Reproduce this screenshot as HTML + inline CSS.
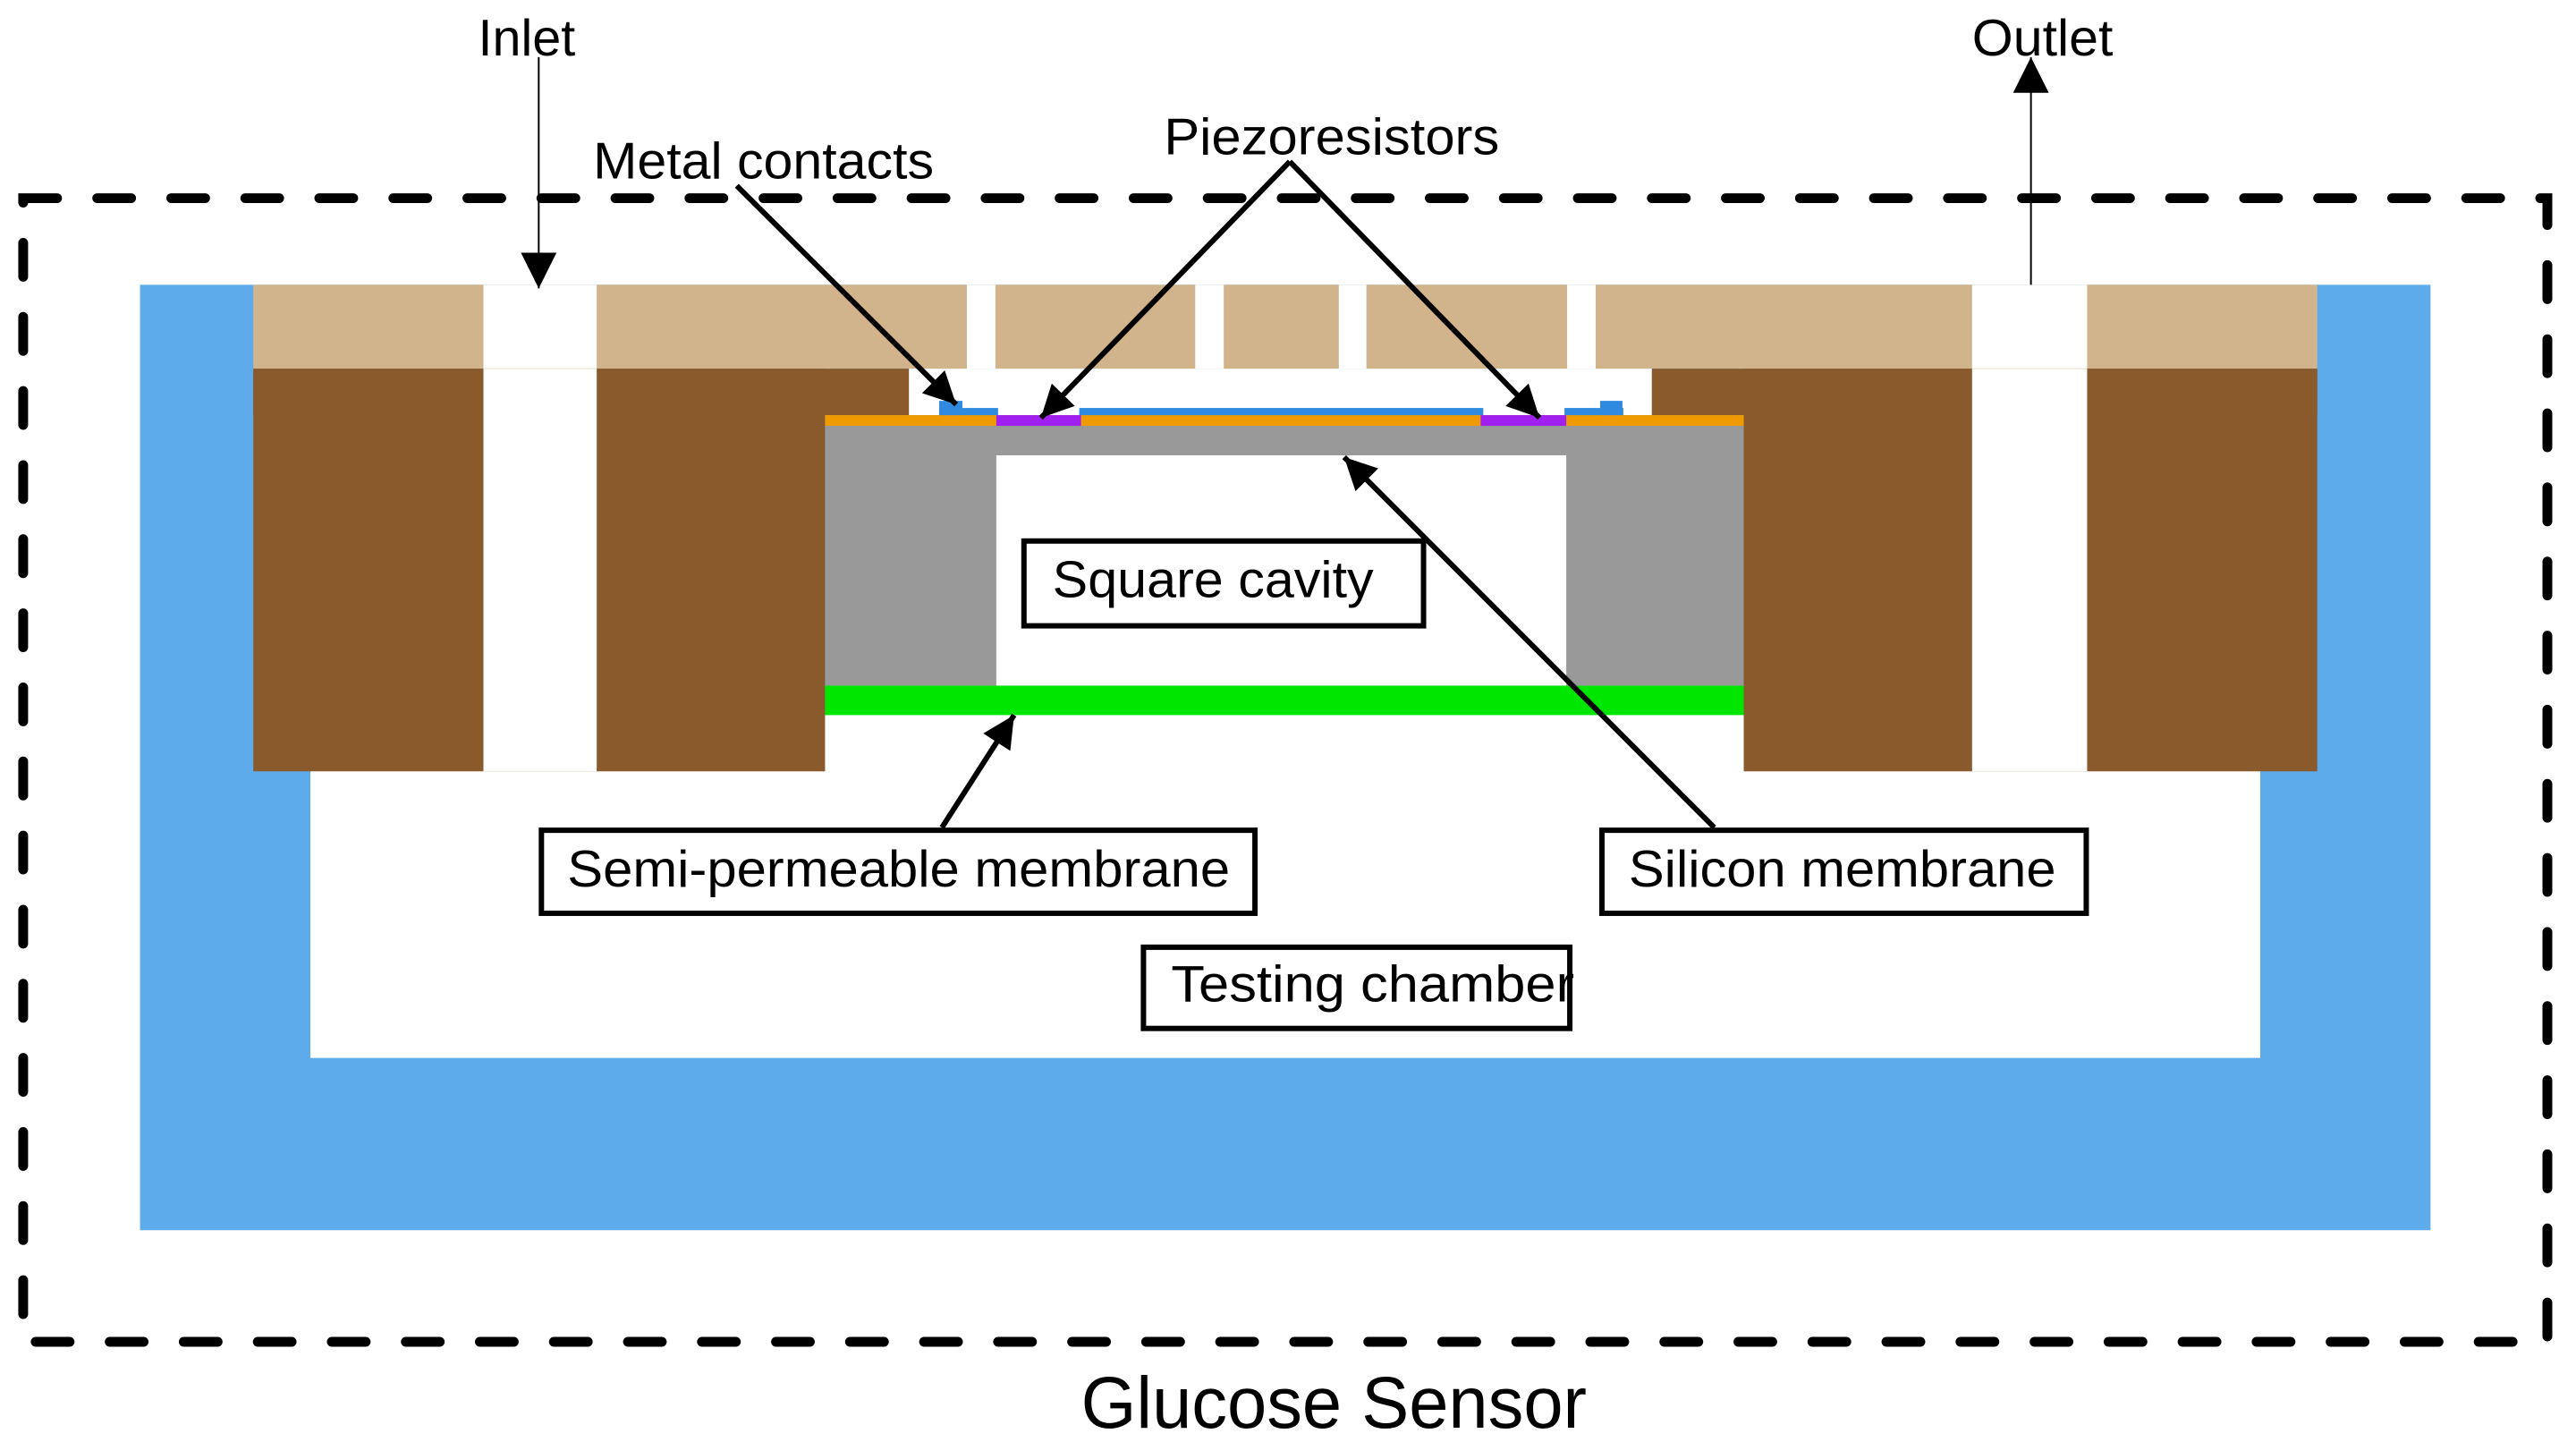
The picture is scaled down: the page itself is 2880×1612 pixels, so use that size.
<!DOCTYPE html>
<html><head><meta charset="utf-8"><style>html,body{margin:0;padding:0;background:#fff}svg{display:block}text{font-family:"Liberation Sans",Arial,sans-serif;fill:#000}</style></head>
<body>
<svg width="2880" height="1612" viewBox="0 0 2880 1612" xmlns="http://www.w3.org/2000/svg">
<defs>
<marker id="ah" viewBox="0 0 10 10" refX="10" refY="5" markerWidth="45" markerHeight="36" markerUnits="userSpaceOnUse" orient="auto"><path d="M0,0 L10,5 L0,10 z" fill="#000"/></marker>
<marker id="ahs" viewBox="0 0 10 10" refX="10" refY="5" markerWidth="40" markerHeight="40" markerUnits="userSpaceOnUse" orient="auto"><path d="M0,0 L10,5 L0,10 z" fill="#000"/></marker>
</defs>
<g transform="scale(0.9972,0.998)">
<rect x="157" y="319" width="2568" height="1059" fill="#5dabeb"/>
<rect x="348" y="800" width="2186" height="385" fill="#fff"/>
<rect x="284" y="319" width="2314" height="94" fill="#d1b38c"/>
<rect x="1019" y="413" width="833" height="52" fill="#fff"/>
<rect x="284" y="413" width="735" height="52" fill="#8a5a2d"/>
<rect x="284" y="413" width="641" height="451" fill="#8a5a2d"/>
<rect x="1852" y="413" width="746" height="52" fill="#8a5a2d"/>
<rect x="1955" y="413" width="643" height="451" fill="#8a5a2d"/>
<rect x="542" y="319" width="127" height="545" fill="#fff"/>
<rect x="2211" y="319" width="129" height="545" fill="#fff"/>
<line x1="542" y1="413" x2="669" y2="413" stroke="#e8dccb" stroke-width="1"/>
<line x1="2211" y1="413" x2="2340" y2="413" stroke="#e8dccb" stroke-width="1"/>
<rect x="1084" y="319" width="32" height="94" fill="#fff"/>
<rect x="1340" y="319" width="32" height="94" fill="#fff"/>
<rect x="1501" y="319" width="31" height="94" fill="#fff"/>
<rect x="1757" y="319" width="32" height="94" fill="#fff"/>
<rect x="925" y="477" width="1030" height="291" fill="#999"/>
<rect x="1117" y="510" width="639" height="258" fill="#fff"/>
<rect x="925" y="768" width="1030" height="33" fill="#00e600"/>
<rect x="925" y="465" width="1030" height="12" fill="#ef9a00"/>
<rect x="1117" y="465" width="95" height="12" fill="#a020f0"/>
<rect x="1660" y="465" width="96" height="12" fill="#a020f0"/>
<rect x="1210" y="457" width="453" height="8" fill="#2f8ae0"/>
<rect x="1053" y="457" width="66" height="8" fill="#2f8ae0"/>
<rect x="1053" y="449" width="26" height="16" fill="#2f8ae0"/>
<rect x="1754" y="457" width="66" height="8" fill="#2f8ae0"/>
<rect x="1794" y="449" width="25" height="16" fill="#2f8ae0"/>
<rect x="26" y="222" width="2830" height="1281" fill="none" stroke="#000" stroke-width="11" stroke-dasharray="38 45" stroke-linecap="round"/>
<rect x="1148" y="606" width="448" height="95" fill="#fff" stroke="#000" stroke-width="6"/>
<rect x="607" y="930" width="800" height="93" fill="#fff" stroke="#000" stroke-width="6"/>
<rect x="1796" y="930" width="543" height="93" fill="#fff" stroke="#000" stroke-width="6"/>
<rect x="1282" y="1061" width="478" height="91" fill="#fff" stroke="#000" stroke-width="6"/>
<line x1="604" y1="64" x2="604" y2="323" stroke="#000" stroke-width="2" marker-end="url(#ahs)"/>
<line x1="2277" y1="319" x2="2277" y2="64" stroke="#000" stroke-width="2" marker-end="url(#ahs)"/>
<g stroke="#000" stroke-width="6" fill="none">
<line x1="826" y1="208" x2="1072" y2="453" marker-end="url(#ah)"/>
<line x1="1446" y1="181" x2="1167" y2="468" marker-end="url(#ah)"/>
<line x1="1446" y1="181" x2="1726" y2="468" marker-end="url(#ah)"/>
<line x1="1056" y1="927" x2="1137" y2="801" marker-end="url(#ah)"/>
<line x1="1922" y1="927" x2="1507" y2="512" marker-end="url(#ah)"/>
</g>
<text x="536" y="62" font-size="58" textLength="109" lengthAdjust="spacingAndGlyphs">Inlet</text>
<text x="2211" y="62" font-size="58" textLength="158" lengthAdjust="spacingAndGlyphs">Outlet</text>
<text x="665" y="200" font-size="58" textLength="382" lengthAdjust="spacingAndGlyphs">Metal contacts</text>
<text x="1305" y="173" font-size="58" textLength="376" lengthAdjust="spacingAndGlyphs">Piezoresistors</text>
<text x="1180" y="669" font-size="58" textLength="360" lengthAdjust="spacingAndGlyphs">Square cavity</text>
<text x="636" y="993" font-size="58" textLength="743" lengthAdjust="spacingAndGlyphs">Semi-permeable membrane</text>
<text x="1826" y="993" font-size="58" textLength="479" lengthAdjust="spacingAndGlyphs">Silicon membrane</text>
<text x="1313" y="1122" font-size="58" textLength="452" lengthAdjust="spacingAndGlyphs">Testing chamber</text>
<text x="1212" y="1599" font-size="82" textLength="567" lengthAdjust="spacingAndGlyphs">Glucose Sensor</text>
</g>
</svg>
</body></html>
